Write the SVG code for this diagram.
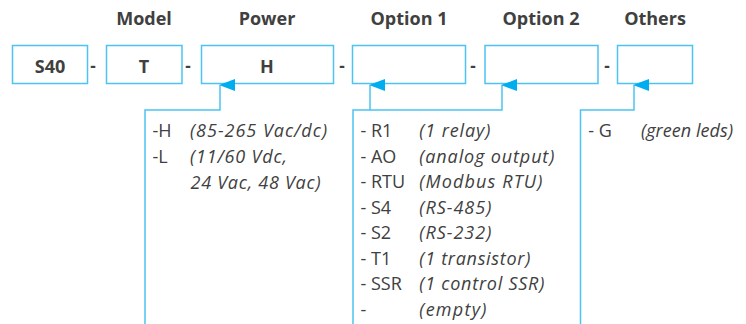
<svg xmlns="http://www.w3.org/2000/svg" width="746" height="324" viewBox="0 0 746 324">
<defs>
<style>
.box{fill:#fff;stroke:#4cc3f2;stroke-width:1.5}
.hd{font-family:"Open Sans","Liberation Sans",sans-serif;font-weight:bold;font-size:18px;fill:#404040;text-anchor:middle}
.bt{font-family:"Open Sans","Liberation Sans",sans-serif;font-weight:bold;font-size:18px;fill:#404040;text-anchor:middle}
.dash{font-family:"Open Sans","Liberation Sans",sans-serif;font-weight:bold;font-size:17px;fill:#404040;text-anchor:middle}
.k{font-family:"Open Sans","Liberation Sans",sans-serif;font-size:18px;fill:#404040}
.d{font-family:"Open Sans","Liberation Sans",sans-serif;font-style:italic;font-size:18px;fill:#404040}
.ln{fill:none;stroke:#4cc3f2;stroke-width:1.5}
</style>
<marker id="ah" viewBox="0 0 12 16" refX="6" refY="1" markerWidth="12" markerHeight="16" markerUnits="userSpaceOnUse" orient="auto-start-reverse">
<path d="M6 0 L12 16 L0 16 Z" fill="#00aeef"/>
</marker>
</defs>
<rect width="746" height="324" fill="#fff"/>
<g id="headers">
<text class="hd" x="144" y="25">Model</text>
<text class="hd" x="267" y="25">Power</text>
<text class="hd" x="409" y="25">Option 1</text>
<text class="hd" x="541" y="25">Option 2</text>
<text class="hd" x="655" y="25">Others</text>
</g>
<g id="n-s40"><rect class="box" x="12.5" y="45.5" width="75" height="38"/><text class="bt" x="50" y="72.5">S40</text></g>
<g id="n-t"><rect class="box" x="106.5" y="45.5" width="75.5" height="38"/><text class="bt" x="144" y="72.5">T</text></g>
<g id="n-h"><rect class="box" x="201.5" y="45.5" width="132" height="38"/><text class="bt" x="267" y="72.5">H</text></g>
<g id="n-opt1"><rect class="box" x="352.5" y="45.5" width="113" height="38"/></g>
<g id="n-opt2"><rect class="box" x="485" y="45.5" width="113" height="38"/></g>
<g id="n-others"><rect class="box" x="617.5" y="45.5" width="75" height="38"/></g>
<g id="dashes">
<text class="dash" x="93" y="72">-</text>
<text class="dash" x="188" y="72">-</text>
<text class="dash" x="342" y="72">-</text>
<text class="dash" x="473" y="72">-</text>
<text class="dash" x="607" y="72">-</text>
</g>
<g id="connectors">
<path class="ln" d="M145 324 V110 H220 V85" marker-end="url(#ah)"/>
<path class="ln" d="M353 324 V110 H370 V85" marker-end="url(#ah)"/>
<path class="ln" d="M370 110 H502 V85" marker-end="url(#ah)"/>
<path class="ln" d="M580.5 324 V110 H634 V85" marker-end="url(#ah)"/>
</g>
<g id="power-list">
<text class="k" x="152.5" y="137">-H</text><text class="d" x="190" y="137" textLength="137">(85-265 Vac/dc)</text>
<text class="k" x="152.5" y="163">-L</text><text class="d" x="190" y="163" textLength="97">(11/60 Vdc,</text>
<text class="d" x="190.5" y="188.5" textLength="130">24 Vac, 48 Vac)</text>
</g>
<g id="option-list">
<text class="k" x="360.5" y="137">- R1</text><text class="d" x="419.3" y="137" textLength="71">(1 relay)</text>
<text class="k" x="360.5" y="162.5">- AO</text><text class="d" x="419.3" y="162.5" textLength="135">(analog output)</text>
<text class="k" x="360.5" y="188">- RTU</text><text class="d" x="419.3" y="188" textLength="123">(Modbus RTU)</text>
<text class="k" x="360.5" y="213.5">- S4</text><text class="d" x="419.3" y="213.5" textLength="72">(RS-485)</text>
<text class="k" x="360.5" y="239">- S2</text><text class="d" x="419.3" y="239" textLength="72">(RS-232)</text>
<text class="k" x="360.5" y="264.5">- T1</text><text class="d" x="419.3" y="264.5" textLength="111">(1 transistor)</text>
<text class="k" x="360.5" y="290">- SSR</text><text class="d" x="419.3" y="290" textLength="125">(1 control SSR)</text>
<text class="k" x="360.5" y="315.5">-</text><text class="d" x="419.3" y="315.5" textLength="67">(empty)</text>
</g>
<g id="others-list">
<text class="k" x="588.3" y="137">- G</text><text class="d" x="641" y="137" textLength="92">(green leds)</text>
</g>
</svg>
